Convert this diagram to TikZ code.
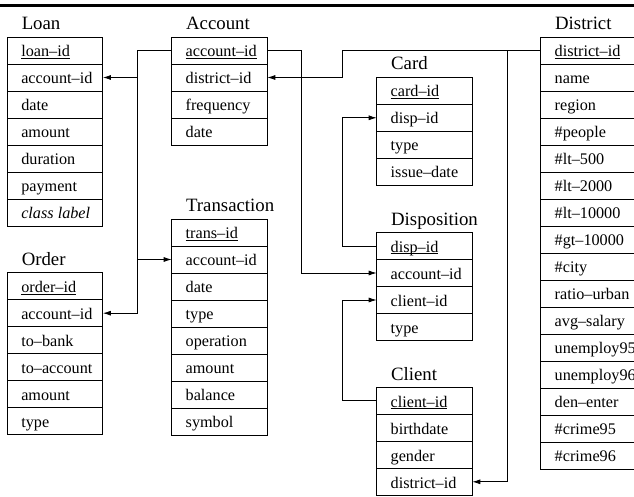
\documentclass[tikz,border=0pt]{standalone}
\usepackage{fontspec}
\setmainfont{Liberation Serif}
\usepackage{tikz}
\usetikzlibrary{positioning, arrows.meta}

\newcommand{\pk}[1]{\underline{\smash{#1}}}

\begin{document}
\begin{tikzpicture}[x=1pt, y=-1pt, line width=0.9pt,
	field/.style={draw, rectangle, anchor=north west, minimum width=95.6pt, minimum height=27pt, inner xsep=14pt, inner ysep=0pt, outer sep=0pt, text height=14.4pt, text depth=2pt, font=\fontsize{16.2}{18}\selectfont, execute at begin node={\hbox to 67.6pt\bgroup}, execute at end node={\hss\egroup}},
	tname/.style={anchor=base west, inner sep=0pt, font=\fontsize{18.8}{20}\selectfont},
	link/.style={-{Latex[length=8pt, width=5pt]}, line width=0.8pt}]
		\useasboundingbox (0,0) rectangle (634,497);
		\clip (0,0) rectangle (634,497);
		\draw[line width=2.7pt] (0,5.3) -- (634,5.3);
		
		% Loan
		\node[field] (loan1) at (7.3,37) {\pk{loan--id}};
		\node[field, below=0pt of loan1] (loan2) {account--id};
		\node[field, below=0pt of loan2] (loan3) {date};
		\node[field, below=0pt of loan3] (loan4) {amount};
		\node[field, below=0pt of loan4] (loan5) {duration};
		\node[field, below=0pt of loan5] (loan6) {payment};
		\node[field, below=0pt of loan6] (loan7) {\textit{class label}};
		\node[tname, above=7.3pt of loan1.north west, anchor=base west, xshift=14pt] (loanT) {Loan};
		
		% Account
		\node[field] (acc1) at (171.7,37) {\pk{account--id}};
		\node[field, below=0pt of acc1] (acc2) {district--id};
		\node[field, below=0pt of acc2] (acc3) {frequency};
		\node[field, below=0pt of acc3] (acc4) {date};
		\node[tname, above=7.3pt of acc1.north west, anchor=base west, xshift=14pt] (accT) {Account};
		
		% Transaction
		\node[field] (trans1) at (171.7,219) {\pk{trans--id}};
		\node[field, below=0pt of trans1] (trans2) {account--id};
		\node[field, below=0pt of trans2] (trans3) {date};
		\node[field, below=0pt of trans3] (trans4) {type};
		\node[field, below=0pt of trans4] (trans5) {operation};
		\node[field, below=0pt of trans5] (trans6) {amount};
		\node[field, below=0pt of trans6] (trans7) {balance};
		\node[field, below=0pt of trans7] (trans8) {symbol};
		\node[tname, above=7.3pt of trans1.north west, anchor=base west, xshift=14pt] (transT) {Transaction};
		
		% Order
		\node[field] (order1) at (7.3,272.7) {\pk{order--id}};
		\node[field, below=0pt of order1] (order2) {account--id};
		\node[field, below=0pt of order2] (order3) {to--bank};
		\node[field, below=0pt of order3] (order4) {to--account};
		\node[field, below=0pt of order4] (order5) {amount};
		\node[field, below=0pt of order5] (order6) {type};
		\node[tname, above=7.3pt of order1.north west, anchor=base west, xshift=14pt] (orderT) {Order};
		
		% Card
		\node[field] (card1) at (376.7,77.3) {\pk{card--id}};
		\node[field, below=0pt of card1] (card2) {disp--id};
		\node[field, below=0pt of card2] (card3) {type};
		\node[field, below=0pt of card3] (card4) {issue--date};
		\node[tname, above=7.3pt of card1.north west, anchor=base west, xshift=14pt] (cardT) {Card};
		
		% Disposition
		\node[field] (disp1) at (376.7,232.5) {\pk{disp--id}};
		\node[field, below=0pt of disp1] (disp2) {account--id};
		\node[field, below=0pt of disp2] (disp3) {client--id};
		\node[field, below=0pt of disp3] (disp4) {type};
		\node[tname, above=7.3pt of disp1.north west, anchor=base west, xshift=14pt] (dispT) {Disposition};
		
		% Client
		\node[field] (cli1) at (376.7,387.3) {\pk{client--id}};
		\node[field, below=0pt of cli1] (cli2) {birthdate};
		\node[field, below=0pt of cli2] (cli3) {gender};
		\node[field, below=0pt of cli3] (cli4) {district--id};
		\node[tname, above=7.3pt of cli1.north west, anchor=base west, xshift=14pt] (cliT) {Client};
		
		% District
		\node[field] (dist1) at (540.7,37) {\pk{district--id}};
		\node[field, below=0pt of dist1] (dist2) {name};
		\node[field, below=0pt of dist2] (dist3) {region};
		\node[field, below=0pt of dist3] (dist4) {\#people};
		\node[field, below=0pt of dist4] (dist5) {\#lt--500};
		\node[field, below=0pt of dist5] (dist6) {\#lt--2000};
		\node[field, below=0pt of dist6] (dist7) {\#lt--10000};
		\node[field, below=0pt of dist7] (dist8) {\#gt--10000};
		\node[field, below=0pt of dist8] (dist9) {\#city};
		\node[field, below=0pt of dist9] (dist10) {ratio--urban};
		\node[field, below=0pt of dist10] (dist11) {avg--salary};
		\node[field, below=0pt of dist11] (dist12) {unemploy95};
		\node[field, below=0pt of dist12] (dist13) {unemploy96};
		\node[field, below=0pt of dist13] (dist14) {den--enter};
		\node[field, below=0pt of dist14] (dist15) {\#crime95};
		\node[field, below=0pt of dist15] (dist16) {\#crime96};
		\node[tname, above=7.3pt of dist1.north west, anchor=base west, xshift=14pt] (distT) {District};
		
		\coordinate[left=34pt of acc1.west] (accL);
		\coordinate[right=34.4pt of acc1.east] (accR);
		\coordinate[left=198.4pt of dist1.west] (distL);
		\coordinate[left=33.4pt of dist1.west] (distM);
		\coordinate[left=34.4pt of disp1.west] (dispL);
		\coordinate[left=34.4pt of cli1.west] (cliL);
		
		\draw[link] (acc1.west) -- (accL) |- (loan2.east);
		\draw[link] (accL) |- (trans2.west);
		\draw[link] (accL) |- (order2.east);
		\draw[link] (acc1.east) -- (accR) |- (disp2.west);
		\draw[link] (dist1.west) -- (distL) |- (acc2.east);
		\draw[link] (distM) |- (cli4.east);
		\draw[link] (disp1.west) -- (dispL) |- (card2.west);
		\draw[link] (cli1.west) -- (cliL) |- (disp3.west);
		
	\end{tikzpicture}
\end{document}
